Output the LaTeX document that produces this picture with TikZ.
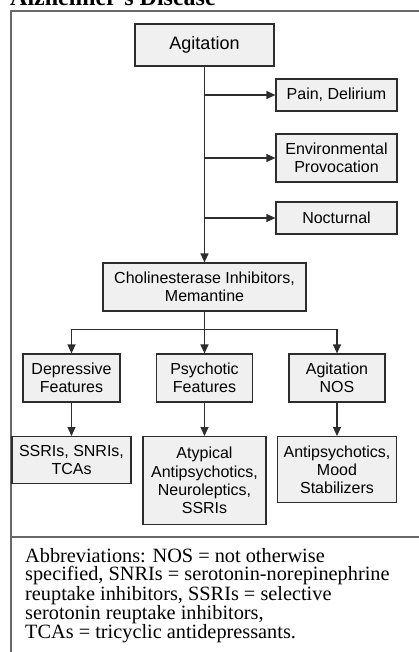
\documentclass[tikz,border=0pt]{standalone}
\usepackage{fontspec}
\setmainfont{Liberation Sans}
\newfontfamily\notefont{Liberation Serif}
\usepackage{tikz}
\usetikzlibrary{calc,positioning,arrows.meta}
\usepackage{xcolor}
\definecolor{boxfill}{RGB}{240,240,240}
\definecolor{boxline}{RGB}{45,45,45}
\definecolor{framegray}{RGB}{105,105,105}

\begin{document}
\begin{tikzpicture}[x=1pt,y=-1pt]
  \tikzset{
    box/.style={draw=boxline,fill=boxfill,line width=1.2pt,inner sep=0pt,align=center,
      font=\fontsize{16}{18.3}\selectfont},
    link/.style={draw=boxline,line width=1.2pt},
    arr/.style={link,-{Triangle[length=9pt,width=8pt]}},
    frame/.style={draw=framegray,line width=1.5pt},
  }
  \useasboundingbox (0,0) rectangle (419,652);
  \clip (0,0) rectangle (419,652);

  \node[anchor=base west,inner sep=0pt,font=\notefont\bfseries\fontsize{24}{26}\selectfont]
    (title) at (10,6) {Alzheimer’s Disease};
  \draw[frame] (11,660) -- (11,11) -- (430,11);
  \draw[frame] (11,537) -- (430,537);

  \node[box,minimum width=139pt,minimum height=42pt,font=\fontsize{18}{20}\selectfont] (agit) at (204.5,45) {Agitation};
  \node[box,minimum width=121pt,minimum height=32pt] (pain) at (336.5,95) {Pain, Delirium};
  \node[box,minimum width=121pt,minimum height=48pt] (envi) at (336.5,158) {Environmental\\Provocation};
  \node[box,minimum width=121pt,minimum height=32pt] (noct) at (336.5,218) {Nocturnal};
  \node[box,minimum width=203pt,minimum height=48pt] (chol) at (204.5,287) {Cholinesterase Inhibitors,\\Memantine};

  \node[box,minimum width=97pt,minimum height=48pt] (depr) at (71.5,378) {Depressive\\Features};
  \node[box,minimum width=96pt,minimum height=48pt] (psyc) at (204.5,378) {Psychotic\\Features};
  \node[box,minimum width=96pt,minimum height=48pt] (anos) at (337,378) {Agitation\\NOS};

  \node[box,minimum width=119pt,minimum height=47pt,anchor=north] (ssri) at (71.5,436) {SSRIs, SNRIs,\\TCAs};
  \node[box,minimum width=123pt,minimum height=88pt,anchor=north] (atyp) at (204.5,436) {Atypical\\Antipsychotics,\\Neuroleptics,\\SSRIs};
  \node[box,minimum width=119pt,minimum height=66pt,anchor=north] (anti) at (337,436) {Antipsychotics,\\Mood\\Stabilizers};

  % side branches off the main line
  \draw[arr] (agit.south) -- (chol.north);
  \foreach \dst in {pain,envi,noct}
    \draw[arr] (agit.south |- \dst.west) -- (\dst.west);

  \coordinate (fork) at ($(chol.south)+(0,18)$);
  \draw[arr] (chol.south) -- (psyc.north);
  \draw[arr] (fork) -| (depr.north);
  \draw[arr] (fork) -| (anos.north);

  \draw[arr] (depr.south) -- (ssri.north);
  \draw[arr] (psyc.south) -- (atyp.north);
  \draw[arr] (anos.south) -- (anti.north);

  \node[anchor=north west,inner sep=0pt,align=left,font=\notefont\fontsize{20.3}{18.4}\selectfont]
    (abbr) at (25,548) {Abbreviations: NOS = not otherwise\\
    specified, SNRIs = serotonin-norepinephrine\\
    reuptake inhibitors, SSRIs = selective\\
    serotonin reuptake inhibitors,\\
    TCAs = tricyclic antidepressants.};
\end{tikzpicture}
\end{document}
